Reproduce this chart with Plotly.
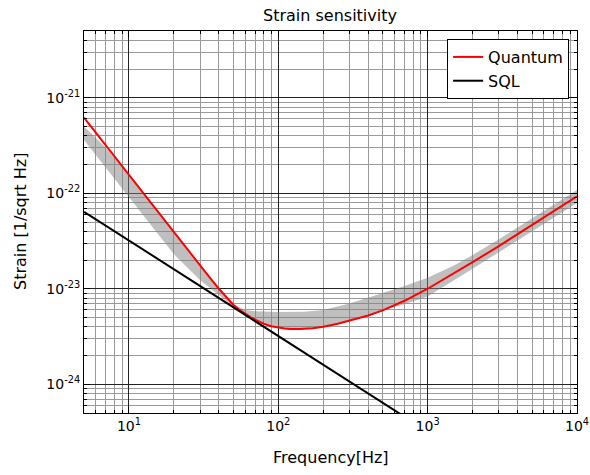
import plotly.graph_objects as go

# Quantum noise curve
freq_q = [5, 7, 10, 15, 20, 25, 30, 35, 40, 45, 50, 55, 60, 65, 70, 75, 80, 90, 100, 110, 120,
          140, 170, 200, 250, 300, 400, 500, 700, 1000, 1500, 2000, 3000, 5000, 7000, 10000]
quantum = [6.2e-22, 3.16e-22, 1.55e-22, 6.9e-23, 3.9e-23, 2.5e-23, 1.74e-23, 1.29e-23, 1.0e-23,
           8.1e-24, 6.8e-24, 6.0e-24, 5.45e-24, 5.05e-24, 4.75e-24, 4.5e-24, 4.3e-24, 4.05e-24,
           3.9e-24, 3.83e-24, 3.8e-24, 3.78e-24, 3.85e-24, 4.0e-24, 4.3e-24, 4.62e-24, 5.25e-24,
           5.94e-24, 7.48e-24, 1.0e-23, 1.44e-23, 1.9e-23, 2.8e-23, 4.65e-23, 6.5e-23, 9.3e-23]

# Standard quantum limit
freq_sql = [5, 10, 100, 1000]
sql = [6.4e-23, 3.2e-23, 3.2e-24, 3.2e-25]

# Uncertainty band edges
freq_up = [5, 7, 10, 20, 30, 40, 50, 60, 70, 100, 150, 200, 300, 400, 500, 700, 1000, 1500,
           2000, 3000, 5000, 7000, 10000]
band_up = [5.0e-22, 3.0e-22, 1.55e-22, 3.9e-23, 1.74e-23, 1.0e-23, 6.9e-24, 6.0e-24, 5.8e-24,
           5.7e-24, 5.75e-24, 6.0e-24, 7.0e-24, 8.0e-24, 9.0e-24, 1.07e-23, 1.3e-23, 1.75e-23,
           2.25e-23, 3.3e-23, 5.45e-23, 7.6e-23, 1.08e-22]
freq_lo = [5, 10, 20, 30, 40, 50, 60, 70, 80, 100, 140, 200, 300, 500, 700, 1000, 2000, 3000,
           5000, 7000, 10000]
band_lo = [3.6e-22, 9.2e-23, 2.3e-23, 1.23e-23, 8.6e-24, 6.5e-24, 5.45e-24, 4.8e-24, 4.4e-24,
           3.9e-24, 3.78e-24, 4.0e-24, 4.62e-24, 5.94e-24, 6.9e-24, 8.3e-24, 1.62e-23, 2.4e-23,
           3.98e-23, 5.55e-23, 7.9e-23]

x_tickvals = [10, 100, 1000, 10000]
x_ticktext = ["10<sup>1</sup>", "10<sup>2</sup>", "10<sup>3</sup>", "10<sup>4</sup>"]
y_tickvals = [1e-24, 1e-23, 1e-22, 1e-21]
y_ticktext = ["10<sup>-24</sup>", "10<sup>-23</sup>", "10<sup>-22</sup>", "10<sup>-21</sup>"]

FONT = "DejaVu Sans"

fig = go.Figure()
fig.add_trace(go.Scatter(
    x=freq_up + freq_lo[::-1], y=band_up + band_lo[::-1],
    fill="toself", fillcolor="rgba(128,128,128,0.5)", line=dict(width=0),
    mode="lines", showlegend=False, hoverinfo="skip"))
fig.add_trace(go.Scatter(x=freq_q, y=quantum, mode="lines", name="Quantum",
                         line=dict(color="#ff0000", width=2)))
fig.add_trace(go.Scatter(x=freq_sql, y=sql, mode="lines", name="SQL",
                         line=dict(color="#000000", width=2)))

axis_common = dict(
    type="log", showline=True, linecolor="black", linewidth=1, mirror="allticks",
    ticks="inside", ticklen=6, tickcolor="black", automargin=False,
    showgrid=True, gridcolor="#222222", gridwidth=1, zeroline=False,
    tickfont=dict(family=FONT, size=14, color="black"),
    minor=dict(ticks="inside", ticklen=3, tickcolor="black", showgrid=True,
               gridcolor="#9a9a9a", gridwidth=1, dtick="D1"),
)

fig.update_xaxes(**axis_common, range=[0.69897, 4.0], tickvals=x_tickvals, ticktext=x_ticktext)
fig.update_yaxes(**axis_common, range=[-24.30103, -20.30103], tickvals=y_tickvals, ticktext=y_ticktext)

fig.update_layout(
    width=590, height=475,
    margin=dict(l=84, r=13, t=31, b=62),
    paper_bgcolor="white", plot_bgcolor="white",
    title=dict(text="Strain sensitivity", x=0.5593, xanchor="center", y=0.968, yanchor="middle",
               font=dict(family=FONT, size=16, color="black")),
    font=dict(family=FONT, color="black"),
    legend=dict(x=0.984, y=0.979, xanchor="right", yanchor="top", bgcolor="white",
                bordercolor="black", borderwidth=1, font=dict(family=FONT, size=16),
                itemwidth=30, tracegroupgap=0),
    annotations=[
        dict(text="Frequency[Hz]", xref="paper", yref="paper", x=0.5, y=-0.1178,
             xanchor="center", yanchor="middle", showarrow=False,
             font=dict(family=FONT, size=16, color="black")),
        dict(text="Strain [1/sqrt Hz]", xref="paper", yref="paper", x=-0.1298, y=0.5,
             xanchor="center", yanchor="middle", showarrow=False, textangle=-90,
             font=dict(family=FONT, size=16, color="black")),
    ],
)

fig.write_html("out.html")
